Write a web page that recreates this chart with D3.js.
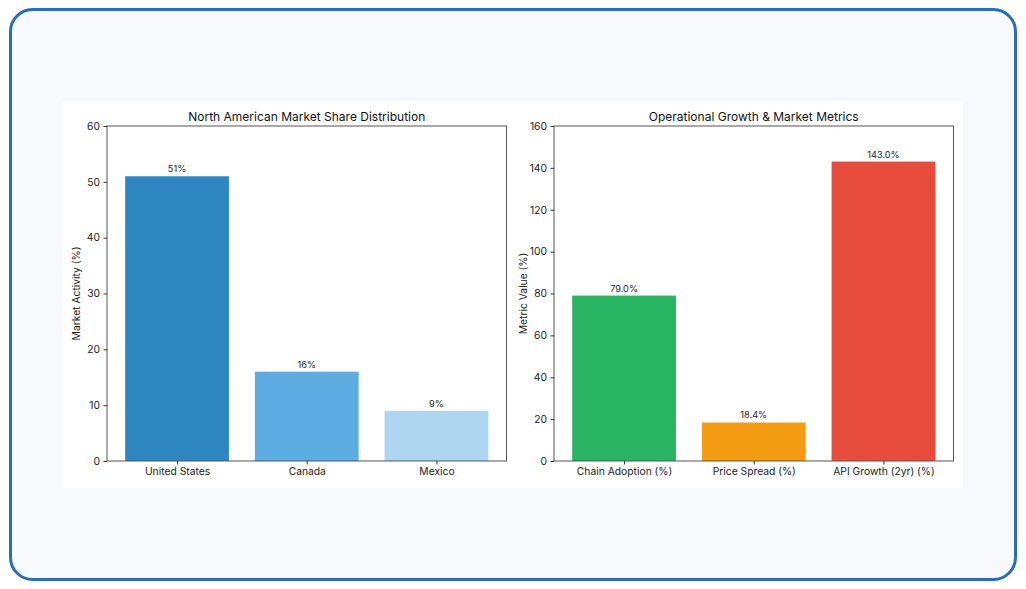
<!DOCTYPE html>
<html><head><meta charset="utf-8">
<script src="https://cdn.jsdelivr.net/npm/d3@7"></script>
<style>html,body{margin:0;padding:0;background:#fff;}svg{display:block;}</style>
</head><body>
<svg id="c" width="1026" height="589"></svg>
<script>
const leftTitle = "North American Market Share Distribution";
const leftCategories = ["United States", "Canada", "Mexico"];
const leftValues = [51, 16, 9];
const leftColors = ["#2e86c1", "#5dade2", "#aed6f1"];
const leftTicks = [0, 10, 20, 30, 40, 50, 60];
const leftYLabel = "Market Activity (%)";

const rightTitle = "Operational Growth & Market Metrics";
const rightCategories = ["Chain Adoption (%)", "Price Spread (%)", "API Growth (2yr) (%)"];
const rightValues = [79.0, 18.4, 143.0];
const rightColors = ["#28b463", "#f39c12", "#e74c3c"];
const rightTicks = [0, 20, 40, 60, 80, 100, 120, 140, 160];
const rightYLabel = "Metric Value (%)";

const svg = d3.select("#c");
const FONT = "Inter, Roboto, sans-serif";

svg.append("rect").attr("x",0).attr("y",0).attr("width",1026).attr("height",589).attr("fill","#ffffff");
svg.append("rect").attr("x",10.5).attr("y",9.5).attr("width",1005).attr("height",570)
  .attr("rx",22).attr("fill","#f7f9fc").attr("stroke","#2a6db5").attr("stroke-width",3);
svg.append("rect").attr("x",62).attr("y",101).attr("width",901).attr("height",387).attr("fill","#ffffff");

function panel(cfg){
  const {x0,x1,y0,y1,cats,vals,colors,ticks,ymax,title,ylabel,fmt} = cfg;
  const g = svg.append("g");
  const n = cats.length;
  const lo = -0.4 - 0.05*(n-1+0.8), hi = n-1+0.4 + 0.05*(n-1+0.8);
  const xl = d3.scaleLinear().domain([lo,hi]).range([x0,x1]);
  const y = d3.scaleLinear().domain([0,ymax]).range([y1,y0]);
  g.selectAll("rect.bar").data(vals).join("rect").attr("class","bar")
    .attr("x",(d,i)=>xl(i-0.4)).attr("width",(d,i)=>xl(i+0.4)-xl(i-0.4))
    .attr("y",d=>y(d)).attr("height",d=>y(0)-y(d)).attr("fill",(d,i)=>colors[i]);
  g.selectAll("text.val").data(vals).join("text").attr("class","val")
    .attr("x",(d,i)=>xl(i)).attr("y",d=>y(d)-4).attr("text-anchor","middle")
    .attr("font-family",FONT).attr("font-size",9.2).attr("fill","#222").text(fmt);
  g.append("rect").attr("x",x0).attr("y",y0).attr("width",x1-x0).attr("height",y1-y0)
    .attr("fill","none").attr("stroke","#555").attr("stroke-width",1);
  const ya = g.append("g").attr("transform",`translate(${x0},0)`)
    .call(d3.axisLeft(y).tickValues(ticks).tickSize(3.5).tickPadding(3.5));
  ya.select(".domain").remove();
  ya.selectAll("line").attr("stroke","#333");
  ya.selectAll("text").attr("font-family",FONT).attr("font-size",10.3).attr("fill","#222");
  const xa = g.append("g").attr("transform",`translate(0,${y1})`)
    .call(d3.axisBottom(d3.scalePoint().domain(cats).range([xl(0),xl(n-1)])).tickSize(3.5).tickPadding(3.5));
  xa.select(".domain").remove();
  xa.selectAll("line").attr("stroke","#333");
  xa.selectAll("text").attr("font-family",FONT).attr("font-size",10.3).attr("fill","#222");
  g.append("text").attr("x",(x0+x1)/2).attr("y",y0-5.5).attr("text-anchor","middle")
    .attr("font-family",FONT).attr("font-size",12).attr("fill","#111").text(title);
  g.append("text").attr("transform",`translate(${x0-27},${(y0+y1)/2}) rotate(-90)`)
    .attr("text-anchor","middle").attr("font-family",FONT).attr("font-size",10.3).attr("fill","#222").text(ylabel);
}

panel({x0:107,x1:506.5,y0:126,y1:461,cats:leftCategories,vals:leftValues,colors:leftColors,
  ticks:leftTicks,ymax:60,title:leftTitle,ylabel:leftYLabel,fmt:d=>d+"%"});
panel({x0:554,x1:953.5,y0:126,y1:461,cats:rightCategories,vals:rightValues,colors:rightColors,
  ticks:rightTicks,ymax:160,title:rightTitle,ylabel:rightYLabel,fmt:d=>d.toFixed(1)+"%"});
</script>
</body></html>
